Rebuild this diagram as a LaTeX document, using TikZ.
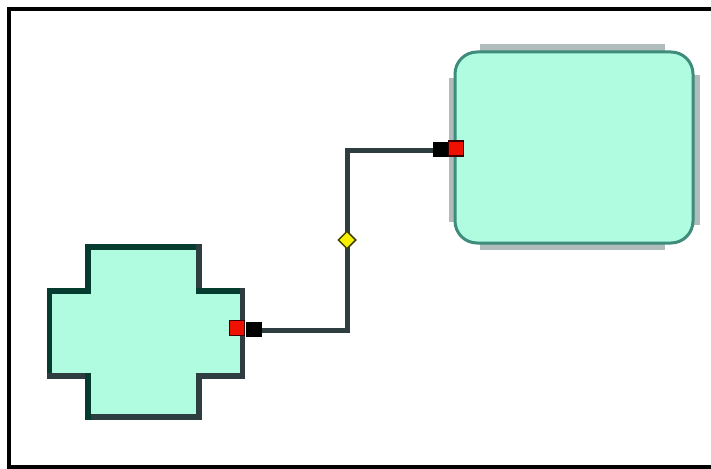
\documentclass[tikz,border=0pt]{standalone}
\usetikzlibrary{shapes.geometric}
\definecolor{aqua}{HTML}{B0FCE0}
\definecolor{darkteal}{HTML}{063C30}
\definecolor{darkgray}{HTML}{2E3E40}
\definecolor{halo}{HTML}{B0BCBC}
\definecolor{rectline}{HTML}{3E8C7C}
\definecolor{portred}{HTML}{F01000}
\definecolor{portdark}{HTML}{3A0000}
\definecolor{diayellow}{HTML}{F8F000}
\definecolor{diaborder}{HTML}{404000}
\begin{document}
\begin{tikzpicture}[x=1pt,y=-1pt,
  frame/.style={draw=black,line width=4pt},
  crossline/.style={line width=5.5pt,line cap=rect},
  box/.style={draw=rectline,fill=aqua,line width=3pt,rounded corners=22pt},
  haloband/.style={fill=halo},
  port/.style={draw=portdark,fill=portred,line width=1.5pt,minimum size=15pt,inner sep=0pt,rectangle},
  stub/.style={fill=black,minimum width=16pt,minimum height=15pt,inner sep=0pt,rectangle},
  joint/.style={diamond,draw=diaborder,fill=diayellow,line width=1.5pt,minimum size=18pt,inner sep=0pt},
  wire/.style={draw=darkgray,line width=5pt}]
\useasboundingbox (0,0) rectangle (711,468);
\begin{scope}
\clip (0,0) rectangle (711,468);
\draw[frame] (9,9.5) rectangle (720,466.5);
\end{scope}
% cross shape
\fill[aqua] (49.5,291) -- (88,291) -- (88,247) -- (199,247) -- (199,291) -- (242.5,291) -- (242.5,376) -- (199,376) -- (199,417) -- (88,417) -- (88,376) -- (49.5,376) -- cycle;
\draw[crossline,darkteal] (88,291) -- (49.5,291) -- (49.5,376);
\draw[crossline,darkteal] (88,291) -- (88,247) -- (199,247);
\draw[crossline,darkgray] (199,247) -- (199,291);
\draw[crossline,darkteal] (199,291) -- (242.5,291);
\draw[crossline,darkgray] (242.5,291) -- (242.5,376);
\draw[crossline,darkgray] (242.5,376) -- (199,376) -- (199,417) -- (88,417);
\draw[crossline,darkgray] (49.5,376) -- (88,376);
\draw[crossline,darkteal] (88,376) -- (88,417);
% halo bands around the rounded rectangle
\fill[haloband] (480,44) rectangle (665,53);
\fill[haloband] (480,242) rectangle (665,250);
\fill[haloband] (449,78) rectangle (456,222);
\fill[haloband] (692,75) rectangle (700,225);
\node[box,minimum width=238pt,minimum height=191pt,inner sep=0pt] (box) at (574,147.5) {};
% ports and connector
\node[stub] (s1) at (254,329) {};
\node[port] (p1) at (237,328) {};
\node[stub] (s2) at (441,149) {};
\node[port] (p2) at (456,148.5) {};
\draw[wire] (s1.east |- 0,330.5) -- (347,330.5) -- (347,150.5) -- (s2.west |- 0,150.5);
\node[joint] (j) at (347,240) {};
\end{tikzpicture}
\end{document}
